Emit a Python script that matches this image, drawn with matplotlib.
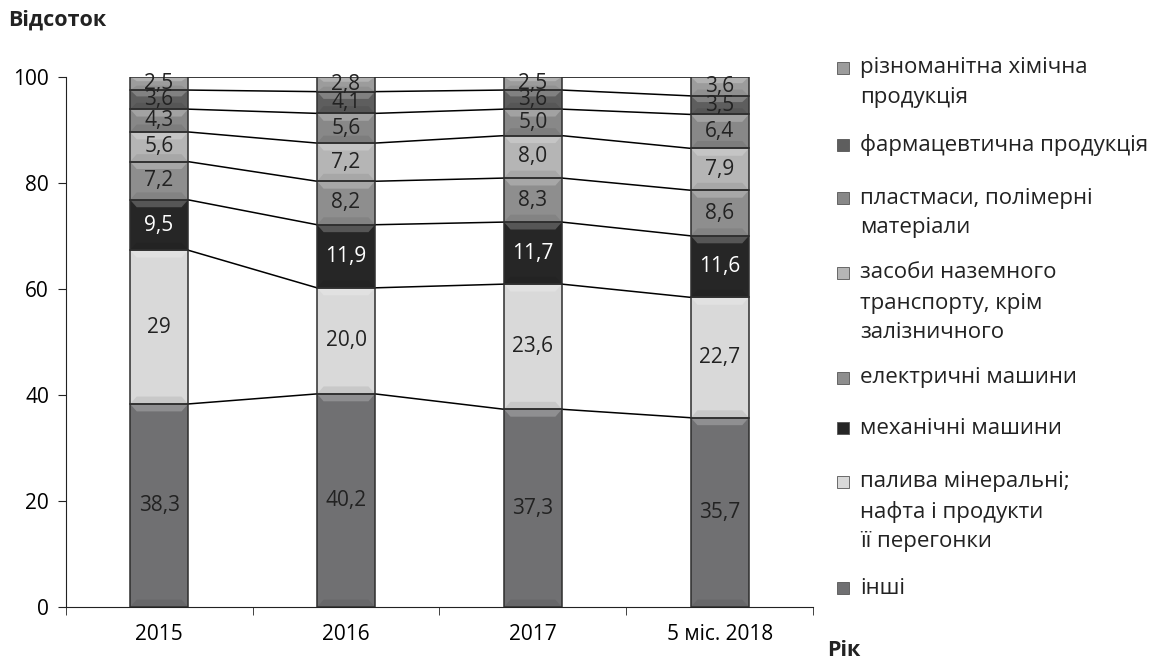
import matplotlib.pyplot as plt
from matplotlib.patches import Rectangle, Polygon
import numpy as np

plt.rcParams['font.family'] = ['Open Sans', 'DejaVu Sans']

years = ['2015', '2016', '2017', '5 міс. 2018']
# shares from the bottom of each bar to the top
inshi = [38.3, 40.2, 37.3, 35.7]
palyva = [29, 20.0, 23.6, 22.7]
mekh = [9.5, 11.9, 11.7, 11.6]
elektr = [7.2, 8.2, 8.3, 8.6]
transp = [5.6, 7.2, 8.0, 7.9]
plast = [4.3, 5.6, 5.0, 6.4]
farm = [3.6, 4.1, 3.6, 3.5]
khim = [2.5, 2.8, 2.5, 3.6]
labels_txt = [['38,3', '40,2', '37,3', '35,7'],
              ['29', '20,0', '23,6', '22,7'],
              ['9,5', '11,9', '11,7', '11,6'],
              ['7,2', '8,2', '8,3', '8,6'],
              ['5,6', '7,2', '8,0', '7,9'],
              ['4,3', '5,6', '5,0', '6,4'],
              ['3,6', '4,1', '3,6', '3,5'],
              ['2,5', '2,8', '2,5', '3,6']]
names = ['інші', 'палива мінеральні;\nнафта і продукти\nїї перегонки', 'механічні машини',
         'електричні машини', 'засоби наземного\nтранспорту, крім\nзалізничного',
         'пластмаси, полімерні\nматеріали', 'фармацевтична продукція',
         'різноманітна хімічна\nпродукція']

series = [inshi, palyva, mekh, elektr, transp, plast, farm, khim]
colors = ['#707072', '#d9d9d9', '#262626', '#8e8e8e', '#b5b5b5', '#888888', '#5e5e5e', '#9c9c9c']
txtcol = ['#222', '#222', 'white', '#222', '#222', '#222', '#222', '#222']


def shade(c, f):
    rgb = np.array(plt.matplotlib.colors.to_rgb(c))
    if f > 0:
        return tuple(rgb + (1 - rgb) * f)
    return tuple(rgb * (1 + f))


fig = plt.figure(figsize=(11.52, 6.62), dpi=100)
ax = fig.add_axes([0.057, 0.083, 0.649, 0.801])

x = np.arange(len(years))
w = 0.31
bx = 0.035  # bevel width in x units
bottom = np.zeros(len(years))
for i, s in enumerate(series):
    s = np.array(s)
    ax.bar(x, s, w, bottom=bottom, color=colors[i], lw=0, zorder=3)
    for j in range(len(years)):
        # bevel: light top, slightly dark bottom
        by = min(1.4, s[j] / 3)
        l, r = x[j] - w / 2, x[j] + w / 2
        b0, t0 = bottom[j], bottom[j] + s[j]
        ax.add_patch(Polygon([[l, t0], [r, t0], [r - bx, t0 - by], [l + bx, t0 - by]],
                             closed=True, color=shade(colors[i], 0.22), lw=0, zorder=3.2))
        ax.add_patch(Polygon([[l, b0], [r, b0], [r - bx, b0 + by], [l + bx, b0 + by]],
                             closed=True, color=shade(colors[i], -0.08), lw=0, zorder=3.2))
        ax.add_patch(Rectangle((l, b0), w, s[j], fill=False, ec='#2e2e2e', lw=1.1, zorder=3.3))
        ax.text(x[j], bottom[j] + s[j] / 2, labels_txt[i][j], ha='center', va='center',
                fontsize=15, color=txtcol[i], zorder=4)
    bottom = bottom + s
    # connector lines between bars
    for j in range(len(years) - 1):
        ax.plot([x[j] + w / 2, x[j + 1] - w / 2], [bottom[j], bottom[j + 1]],
                color='black', lw=1.1, zorder=2)

ax.set_xlim(-0.5, 3.5)
ax.set_ylim(0, 100)
ax.set_yticks([0, 20, 40, 60, 80, 100])
ax.set_xticks(x)
ax.set_xticklabels(years)
ax.set_xticks(np.arange(-0.5, 4, 1), minor=True)
ax.tick_params(axis='x', which='major', length=0, pad=12, labelsize=15)
ax.tick_params(axis='x', which='minor', length=6, direction='out', color='#222')
ax.tick_params(axis='y', length=6, direction='out', labelsize=15, pad=6, color='#222')
for sp in ['top', 'right']:
    ax.spines[sp].set_visible(False)
ax.spines['left'].set_color('#222')
ax.spines['bottom'].set_color('#222')

# legend, top entry first
W, H = 1152.0, 662.0
leg_y = [68, 145, 198, 273, 378, 428, 482, 588]
for k, (nm, col) in enumerate(zip(names[::-1], colors[::-1])):
    y0 = leg_y[k]
    fig.add_artist(Rectangle((837 / W, 1 - (y0 + 6) / H), 12 / W, 12 / H,
                             transform=fig.transFigure, fc=col, ec='#555', lw=0.6))
    for n, line in enumerate(nm.split('\n')):
        fig.text(860 / W, 1 - (y0 + 30 * n) / H, line, fontsize=16, va='center', ha='left',
                 color='#222')

fig.text(8 / W, 1 - 20 / H, 'Відсоток', fontsize=15.5, fontweight='bold', va='center',
         color='#222')
fig.text(827 / W, 1 - 650 / H, 'Рік', fontsize=15.5, fontweight='bold', va='center',
         color='#222')

fig.savefig('out.png', dpi=100)
